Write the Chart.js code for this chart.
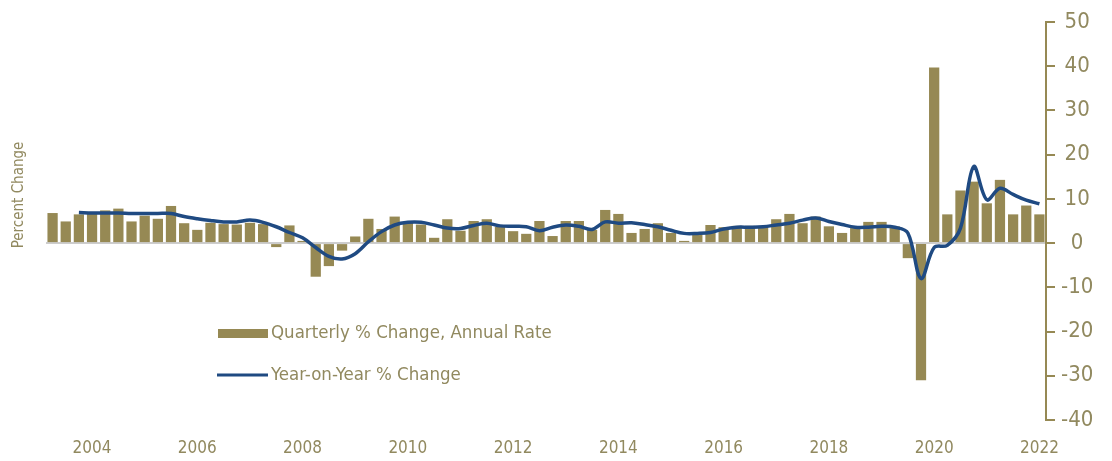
<html>
<head>
    <script src="https://cdn.jsdelivr.net/npm/chart.js@4.4.1/dist/chart.umd.min.js"></script>
    <style>
        html, body { margin: 0; padding: 0; background: #fff; }
        .frame { width: 1112px; height: 461px; }
    </style>
</head>
<body>
    <div class="frame"><canvas id="canvas" width="1112" height="461"></canvas></div>
    <script>
        // quarters 2003Q4 .. 2022Q3
        var startYear = 2003, startQ = 4;
        var quarters = [];
        for (var i = 0; i < 76; i++) {
            var q = (startQ - 1 + i) % 4 + 1;
            var y = startYear + Math.floor((startQ - 1 + i) / 4);
            quarters.push(y + 'Q' + q);
        }

        var quarterlyLabel = 'Quarterly % Change, Annual Rate';
        var yoyLabel = 'Year-on-Year % Change';

        var quarterlyChange = [
            6.8, 4.9, 6.5, 6.8, 7.4, 7.8, 4.9, 6.2, 5.5, 8.4,
            4.5, 3.0, 4.6, 4.3, 4.2, 4.6, 4.3, -0.9, 4.0, 0.5,
            -7.6, -5.2, -1.7, 1.5, 5.5, 3.2, 6.0, 4.6, 4.2, 1.2,
            5.4, 2.8, 5.0, 5.4, 3.7, 2.7, 2.1, 5.0, 1.6, 5.0,
            5.0, 3.0, 7.5, 6.6, 2.3, 3.2, 4.5, 2.3, 0.5, 2.0,
            4.1, 3.6, 3.9, 3.9, 3.9, 5.4, 6.6, 4.5, 6.0, 3.8,
            2.3, 3.4, 4.8, 4.8, 3.8, -3.4, -31.0, 39.7, 6.5, 11.9,
            13.9, 9.0, 14.3, 6.5, 8.5, 6.5
        ];

        var yoyChange = [
            null, null, 6.9, 6.8, 6.8, 6.8, 6.7, 6.7, 6.7, 6.7,
            6.0, 5.5, 5.1, 4.8, 4.8, 5.2, 4.7, 3.7, 2.4, 1.2,
            -1.0, -3.0, -3.6, -2.4, 0.3, 2.6, 4.1, 4.7, 4.7, 4.1,
            3.4, 3.3, 4.0, 4.5, 3.9, 3.8, 3.7, 2.8, 3.6, 4.1,
            3.8, 3.1, 4.8, 4.5, 4.6, 4.2, 3.7, 2.9, 2.2, 2.2,
            2.4, 3.2, 3.6, 3.6, 3.7, 4.1, 4.5, 5.2, 5.7, 4.9,
            4.2, 3.6, 3.6, 3.8, 3.6, 2.3, -8.0, -1.0, -0.5, 3.4,
            17.3, 9.8, 12.4, 11.0, 9.7, 8.9
        ];

        var yTicks = [50, 40, 30, 20, 10, 0, -10, -20, -30, -40];

        var olive = 'rgb(150, 137, 84)';
        var navy = 'rgb(31, 74, 130)';
        var textCol = 'rgb(145, 137, 95)';
        var narrow = "'Liberation Sans Narrow', 'DejaVu Sans Condensed', sans-serif";

        // legend + left title drawn by hand
        var extras = {
            id: 'extras',
            afterDraw: function(chart) {
                var c = chart.ctx;
                c.save();
                c.fillStyle = textCol;
                c.font = "15px " + narrow;
                c.textBaseline = 'middle';
                c.translate(19, 195);
                c.rotate(-Math.PI / 2);
                c.textAlign = 'center';
                c.fillText('Percent Change', 0, 0);
                c.restore();

                c.save();
                c.fillStyle = olive;
                c.fillRect(218, 329, 50, 9);
                c.strokeStyle = navy;
                c.lineWidth = 3;
                c.beginPath();
                c.moveTo(217, 375);
                c.lineTo(268, 375);
                c.stroke();
                c.fillStyle = textCol;
                c.font = "18.5px " + narrow;
                c.textBaseline = 'middle';
                c.textAlign = 'left';
                c.fillText(quarterlyLabel, 271, 333);
                c.fillText(yoyLabel, 271, 375);
                c.restore();
            }
        };

        var ctx = document.getElementById('canvas').getContext('2d');
        var chart = new Chart(ctx, {
            type: 'bar',
            data: {
                labels: quarters,
                datasets: [{
                    type: 'line',
                    label: yoyLabel,
                    data: yoyChange,
                    borderColor: navy,
                    borderWidth: 3.5,
                    pointRadius: 0,
                    tension: 0.35,
                    order: 0
                }, {
                    type: 'bar',
                    label: quarterlyLabel,
                    data: quarterlyChange,
                    backgroundColor: olive,
                    barPercentage: 0.78,
                    categoryPercentage: 1,
                    order: 1
                }]
            },
            options: {
                responsive: false,
                animation: false,
                layout: { padding: { top: 22, left: 46, right: 0, bottom: 0 } },
                plugins: {
                    legend: { display: false },
                    tooltip: { enabled: false }
                },
                scales: {
                    x: {
                        grid: { display: false },
                        border: { display: false },
                        ticks: {
                            autoSkip: false,
                            maxRotation: 0,
                            padding: 10,
                            color: textCol,
                            font: { family: narrow, size: 17 },
                            callback: function(v, i) {
                                var lab = quarters[i];
                                var yr = Number(lab.slice(0, 4));
                                return (lab.slice(5) === '3' && yr % 2 === 0) ? String(yr) : '';
                            }
                        },
                        afterFit: function(s) { s.height = 41; }
                    },
                    y: {
                        position: 'right',
                        min: -40,
                        max: 50,
                        afterBuildTicks: function(s) {
                            s.ticks = yTicks.map(function(v) { return { value: v }; });
                        },
                        grid: {
                            drawOnChartArea: true,
                            color: function(c) { return c.tick && c.tick.value === 0 ? 'rgb(205, 205, 205)' : 'rgba(0,0,0,0)'; },
                            lineWidth: 2,
                            tickColor: olive,
                            tickLength: 9,
                            tickWidth: 2
                        },
                        border: { color: olive, width: 2 },
                        ticks: {
                            color: textCol,
                            padding: 6,
                            crossAlign: 'center',
                            font: { family: narrow, size: 22 }
                        },
                        afterFit: function(s) { s.width = 66; }
                    }
                }
            },
            plugins: [extras]
        });
    </script>
</body>
</html>
